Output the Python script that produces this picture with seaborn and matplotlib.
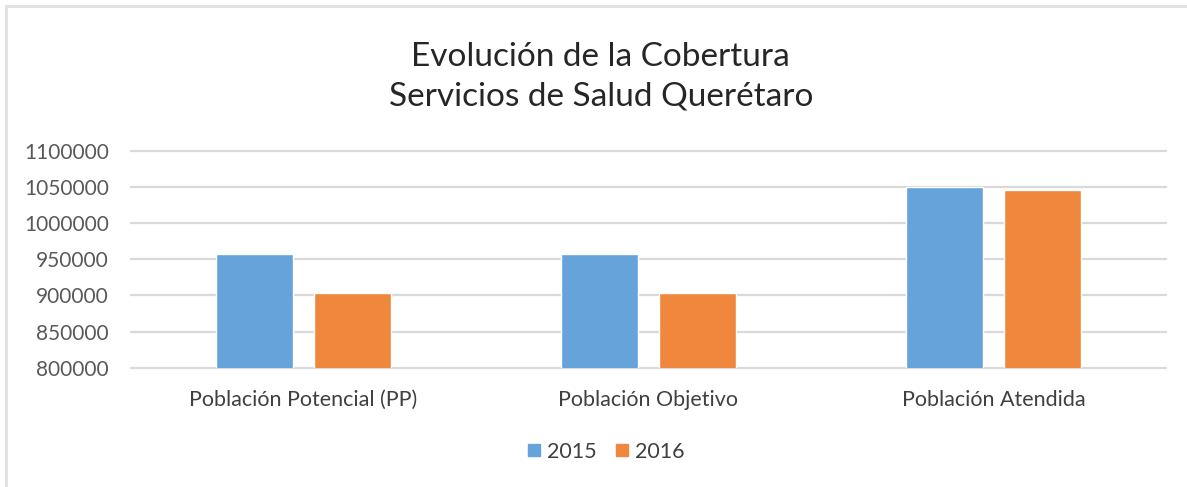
import pandas as pd
import matplotlib
matplotlib.use("Agg")
import matplotlib.pyplot as plt
from matplotlib.lines import Line2D
from matplotlib.ticker import StrMethodFormatter
import seaborn as sns

categorias = ["Población Potencial (PP)", "Población Objetivo", "Población Atendida"]
anios = ["2015", "2016"]
valores_2015 = [958000, 958000, 1049500]
valores_2016 = [903000, 903000, 1046000]

df = pd.DataFrame({
    "Categoria": categorias * 2,
    "Año": ["2015"] * 3 + ["2016"] * 3,
    "Valor": valores_2015 + valores_2016,
})

sns.set_style("white")
plt.rcParams["font.family"] = ["Lato", "DejaVu Sans"]

fig = plt.figure(figsize=(11.87, 4.87), dpi=100)
ax = fig.add_axes([131 / 1187, 1 - 367.7 / 487, (1166 - 131) / 1187, (367.7 - 151) / 487])

colores = {"2015": "#65A3DA", "2016": "#EF873C"}
sns.barplot(data=df, x="Categoria", y="Valor", hue="Año", hue_order=anios,
            palette=colores, width=0.568, gap=0.22, saturation=1, ax=ax,
            legend=False)

ax.set_ylim(800000, 1100000)
ax.set_yticks(range(800000, 1100001, 50000))
ax.yaxis.set_major_formatter(StrMethodFormatter("{x:.0f}"))
ax.yaxis.grid(True, color="#D9D9D9", lw=1.6)
ax.set_axisbelow(True)
for s in ax.spines.values():
    s.set_visible(False)
for gl in ax.yaxis.get_gridlines():
    gl.set_clip_on(False)
ax.tick_params(axis="y", length=0, pad=16, labelsize=15, labelcolor="#595959")
ax.tick_params(axis="x", length=0, pad=16, labelsize=15.5, labelcolor="#404040")
ax.set_xlabel("")
ax.set_ylabel("")

fig.text(600 / 1187, 1 - 57 / 487, "Evolución de la Cobertura", ha="center", va="center",
         fontsize=24, color="#262626")
fig.text(601 / 1187, 1 - 96 / 487, "Servicios de Salud Querétaro", ha="center", va="center",
         fontsize=24, color="#262626")

handles = [Line2D([], [], marker="s", ls="", markersize=9, color=colores[a]) for a in anios]
fig.legend(handles, anios, loc="center", bbox_to_anchor=(606 / 1187, 1 - 452 / 487), ncol=2,
           frameon=False, fontsize=15.5, handlelength=0.6, handletextpad=0.3,
           columnspacing=0.9, labelcolor="#404040")

# marco del grafico
fig.add_artist(Line2D([6 / 1187, 6 / 1187], [0, 1 - 6 / 487], color="#E0E0E0", lw=2))
fig.add_artist(Line2D([6 / 1187, 1], [1 - 6 / 487, 1 - 6 / 487], color="#E0E0E0", lw=2))

fig.savefig("out.png", dpi=100, facecolor="white")
